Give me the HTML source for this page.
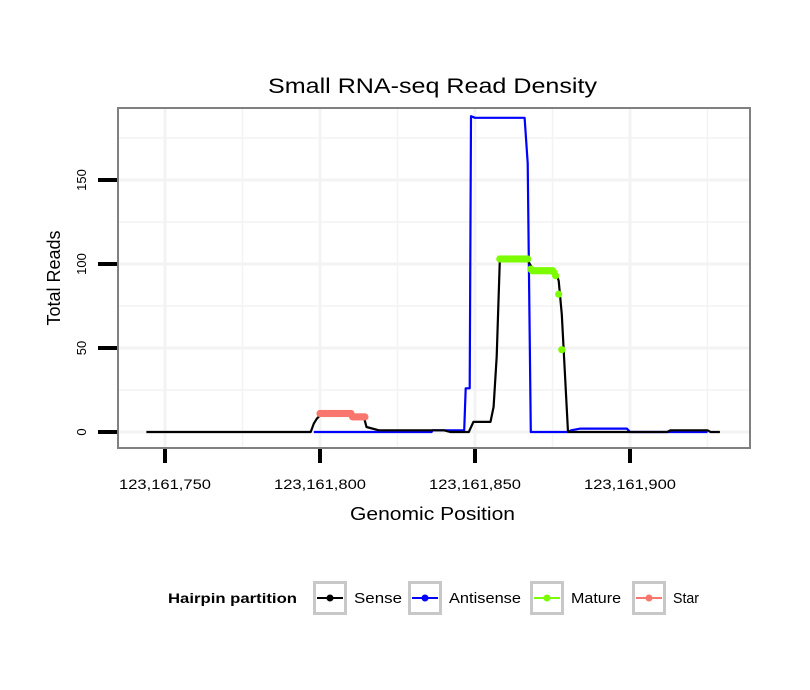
<!DOCTYPE html>
<html><head><meta charset="utf-8"><style>
body{margin:0;background:#fff}
svg{display:block;font-family:"Liberation Sans",sans-serif}
</style></head><body>
<svg id="c" width="810" height="690">
<text x="268" y="93" font-size="21" textLength="329" lengthAdjust="spacingAndGlyphs">Small RNA-seq Read Density</text>
<rect x="118" y="108" width="632" height="340" fill="#fff"/>
<g id="grid"></g>
<g id="series"></g>
<rect x="118" y="108" width="632" height="340" fill="none" stroke="#808080" stroke-width="2"/>
<g id="axes"></g>
<text x="350" y="520" font-size="18" textLength="165" lengthAdjust="spacingAndGlyphs">Genomic Position</text>
<text transform="translate(60,278) rotate(-90)" font-size="18" text-anchor="middle">Total Reads</text>
<g id="legend">
<text x="168" y="603" font-size="14" font-weight="bold" textLength="129" lengthAdjust="spacingAndGlyphs">Hairpin partition</text>
</g>
</svg>
<script>
const xTicks=[123161750,123161800,123161850,123161900];
const yTicks=[0,50,100,150];
const senseX=[123161744,123161797,123161798,123161799,123161800,123161814,123161815,123161819,123161840,123161842,123161848,123161849.5,123161855,123161856,123161857,123161858,123161867,123161869,123161876,123161877,123161878,123161879,123161880,123161912,123161913,123161925,123161926,123161929];
const senseY=[0,0,5,8,10,10,3,1,1,0,0,6,6,15,45,102,102,96,95,90,70,35,0,0,1,1,0,0];
const antiX=[123161798,123161836,123161836.3,123161846.5,123161847,123161848.3,123161848.7,123161850,123161866,123161867,123161868,123161880,123161881,123161884,123161899,123161900,123161925];
const antiY=[0,0,1,1,26,26,188,187,187,160,0,0,1,2,2,0,0];
const matureX=[123161858,123161858.5,123161859,123161859.5,123161860,123161860.5,123161861,123161861.5,123161862,123161862.5,123161863,123161863.5,123161864,123161864.5,123161865,123161865.5,123161866,123161866.5,123161867,123161868,123161868.5,123161869,123161869.5,123161870,123161870.5,123161871,123161871.5,123161872,123161872.5,123161873,123161873.5,123161874,123161874.5,123161875,123161875.5,123161876,123161877,123161878];
const matureY=[103,103,103,103,103,103,103,103,103,103,103,103,103,103,103,103,103,103,103,97,96,96,96,96,96,96,96,96,96,96,96,96,96,96,95,93,82,49];
const starX=[123161800,123161800.5,123161801,123161801.5,123161802,123161802.5,123161803,123161803.5,123161804,123161804.5,123161805,123161805.5,123161806,123161806.5,123161807,123161807.5,123161808,123161808.5,123161809,123161809.5,123161810,123161810.5,123161811,123161811.5,123161812,123161812.5,123161813,123161813.5,123161814,123161814.5];
const starY=[11,11,11,11,11,11,11,11,11,11,11,11,11,11,11,11,11,11,11,11,11,9,9,9,9,9,9,9,9,9];
const X=p=>165+(p-123161750)*3.1;
const Y=v=>432-v*1.68;
const NS="http://www.w3.org/2000/svg";
function mk(t,a,parent){const e=document.createElementNS(NS,t);for(const k in a)e.setAttribute(k,a[k]);parent.appendChild(e);return e;}
const grid=document.getElementById('grid'),ser=document.getElementById('series'),ax=document.getElementById('axes'),leg=document.getElementById('legend');
for(let i=-1;i<xTicks.length;i++){const p=i<0?xTicks[0]-25:xTicks[i];
 [p,p+25].forEach((q,j)=>{const x=X(q);if(x<120||x>748)return;const l=mk('line',{x1:x,x2:x,y1:109,y2:447,stroke:'#f3f3f3','stroke-width':j?1.5:3},grid);
 });}
yTicks.forEach(v=>{[v,v+25].forEach((q,j)=>{const y=Y(q);if(y<110)return;const l=mk('line',{x1:119,x2:749,y1:y,y2:y,stroke:'#f3f3f3','stroke-width':j?1.5:3},grid);
 });});
xTicks.forEach(p=>{const x=X(p);const t=mk('line',{x1:x,x2:x,y1:449,y2:463,stroke:'#000','stroke-width':4},ax);
 
 const s=mk('text',{x:x-46,y:489,'font-size':14,textLength:92,lengthAdjust:'spacingAndGlyphs'},ax);s.textContent=p.toLocaleString('en-US');
 });
yTicks.forEach(v=>{const y=Y(v);const t=mk('line',{x1:98,x2:117,y1:y,y2:y,stroke:'#000','stroke-width':4},ax);
 
 const s=mk('text',{transform:`translate(86,${y}) rotate(-90)`,'font-size':13,'text-anchor':'middle'},ax);s.textContent=v;
 });
function line(xs,ys,c,name){const d=xs.map((p,i)=>(i?'L':'M')+X(p).toFixed(1)+','+Y(ys[i]).toFixed(1)).join('');
 const e=mk('path',{d:d,fill:'none',stroke:c,'stroke-width':2.2,'stroke-linejoin':'round'},ser);
 }
function pts(xs,ys,c,name){xs.forEach((p,i)=>{const e=mk('circle',{cx:X(p),cy:Y(ys[i]),r:3.6,fill:c},ser);
 });}
line(antiX,antiY,'#0000ff','antisense-line');
line(senseX,senseY,'#000','sense-line');
pts(starX,starY,'#f8766d','star-point');
pts(matureX,matureY,'#7cfc00','mature-point');
const keys=[['Sense','#000',313,354,48],['Antisense','#0000ff',408,449,72],['Mature','#7cfc00',530,571,50],['Star','#f8766d',632,673,26]];
keys.forEach(k=>{const b=mk('rect',{x:k[2]+1.5,y:582.5,width:31,height:31,fill:'#fff',stroke:'#c8c8c8','stroke-width':3},leg);
 
 const l=mk('line',{x1:k[2]+4,x2:k[2]+30,y1:598,y2:598,stroke:k[1],'stroke-width':2},leg);
 
 const c=mk('circle',{cx:k[2]+17,cy:598,r:3.5,fill:k[1]},leg);
 
 const t=mk('text',{x:k[3],y:603,'font-size':15,textLength:k[4],lengthAdjust:'spacingAndGlyphs'},leg);t.textContent=k[0];
 });
</script>
</body></html>
